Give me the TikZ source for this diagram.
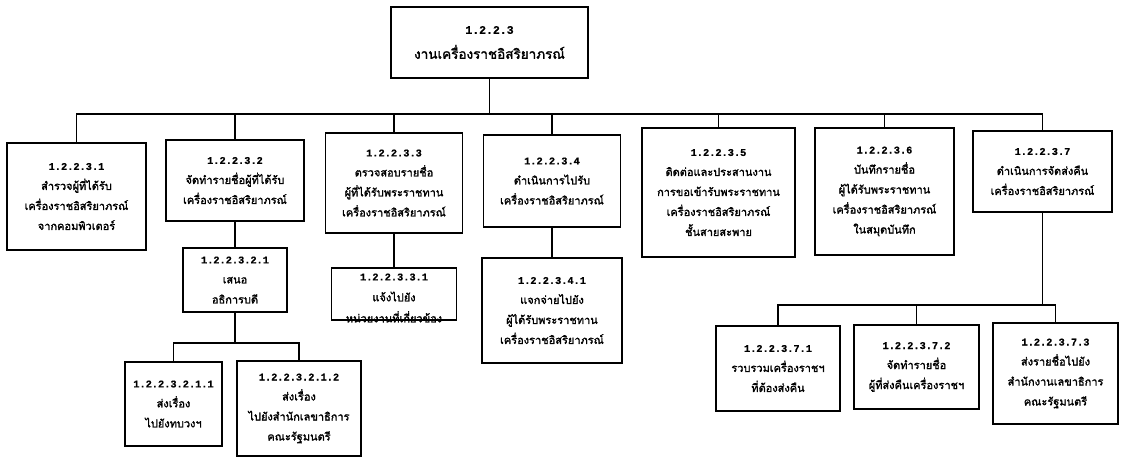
\documentclass[tikz,border=0pt]{standalone}
\usepackage{fontspec}
\newfontfamily\thai[Script=Thai,FakeBold=1.6]{Loma}
\newfontfamily\num{Liberation Mono}[FakeBold=0.6]
\newcommand\nm[1]{{\num\bfseries\fontsize{10.3}{20}\selectfont #1}}
\tikzset{
  x=1pt, y=-1pt,
  box/.style={draw, line width=1.6pt, inner sep=0pt, align=center,
    font=\thai\fontsize{11}{20}\selectfont},
  bw/.style args={#1x#2}{minimum width=#1pt, minimum height=#2pt},
  wire/.style={line width=1.3pt, line cap=rect},
}
\begin{document}
\begin{tikzpicture}
\useasboundingbox[fill=white] (0,0) rectangle (1122,458);

% root
\node[box, line width=2.8pt, bw=197x71, font=\thai\fontsize{13.5}{25}\selectfont]
  (top) at (489.5,42.5) {{\num\bfseries\fontsize{11.5}{25}\selectfont 1.2.2.3}\\งานเครื่องราชอิสริยาภรณ์};

% second level
\node[box, bw=139x107] (b1) at (76.5,196.5)
  {\nm{1.2.2.3.1}\\สำรวจผู้ที่ได้รับ\\เครื่องราชอิสริยาภรณ์\\จากคอมพิวเตอร์};
\node[box, bw=138x81] (b2) at (235,180.5)
  {\nm{1.2.2.3.2}\\จัดทำรายชื่อผู้ที่ได้รับ\\เครื่องราชอิสริยาภรณ์};
\node[box, bw=137x100] (b3) at (394,183)
  {\nm{1.2.2.3.3}\\ตรวจสอบรายชื่อ\\ผู้ที่ได้รับพระราชทาน\\เครื่องราชอิสริยาภรณ์};
\node[box, bw=137x92] (b4) at (552,181)
  {\nm{1.2.2.3.4}\\ดำเนินการไปรับ\\เครื่องราชอิสริยาภรณ์};
\node[box, bw=153x129] (b5) at (718.5,192.5)
  {\nm{1.2.2.3.5}\\ติดต่อและประสานงาน\\การขอเข้ารับพระราชทาน\\เครื่องราชอิสริยาภรณ์\\ชั้นสายสะพาย};
\node[box, bw=139x127] (b6) at (884.5,191.5)
  {\nm{1.2.2.3.6}\\บันทึกรายชื่อ\\ผู้ได้รับพระราชทาน\\เครื่องราชอิสริยาภรณ์\\ในสมุดบันทึก};
\node[box, bw=139x81] (b7) at (1042.5,171.5)
  {\nm{1.2.2.3.7}\\ดำเนินการจัดส่งคืน\\เครื่องราชอิสริยาภรณ์};

% third level
\node[box, bw=104x64] (b21) at (235,280)
  {\nm{1.2.2.3.2.1}\\เสนอ\\อธิการบดี};
\node[box, bw=125x52] (b31) at (394,294) {};
\node[align=center, inner sep=0pt, font=\thai\fontsize{11}{21}\selectfont]
  (b31t) at (394,298) {\nm{1.2.2.3.3.1}\\แจ้งไปยัง\\หน่วยงานที่เกี่ยวข้อง};
\node[box, bw=140x105] (b41) at (552,310.5)
  {\nm{1.2.2.3.4.1}\\แจกจ่ายไปยัง\\ผู้ได้รับพระราชทาน\\เครื่องราชอิสริยาภรณ์};
\node[box, bw=124x85] (b71) at (778,368.5)
  {\nm{1.2.2.3.7.1}\\รวบรวมเครื่องราชฯ\\ที่ต้องส่งคืน};
\node[box, bw=125x84] (b72) at (916.5,367)
  {\nm{1.2.2.3.7.2}\\จัดทำรายชื่อ\\ผู้ที่ส่งคืนเครื่องราชฯ};
\node[box, bw=125x101] (b73) at (1055.5,373.5)
  {\nm{1.2.2.3.7.3}\\ส่งรายชื่อไปยัง\\สำนักงานเลขาธิการ\\คณะรัฐมนตรี};

% fourth level
\node[box, bw=97x84] (b211) at (173.5,404)
  {\nm{1.2.2.3.2.1.1}\\ส่งเรื่อง\\ไปยังทบวงฯ};
\node[box, bw=124x95] (b212) at (299,408.5)
  {\nm{1.2.2.3.2.1.2}\\ส่งเรื่อง\\ไปยังสำนักเลขาธิการ\\คณะรัฐมนตรี};

% connectors
\coordinate (bus) at (489.5,114);
\draw[wire] (top.south) -- (bus);
\foreach \n in {b1,b2,b3,b4,b5,b6,b7}
  \draw[wire] (bus) -| (\n.north);

\draw[wire] (b2.south) -- (b21.north);
\draw[wire] (b3.south) -- (b31.north);
\draw[wire] (b4.south) -- (b41.north);

\coordinate (bus21) at (235,343);
\draw[wire] (b21.south) -- (bus21);
\draw[wire] (bus21) -| (b211.north);
\draw[wire] (bus21) -| (b212.north);

\coordinate (bus7) at (1042.5,305);
\draw[wire] (b7.south) -- (bus7);
\foreach \n in {b71,b72,b73}
  \draw[wire] (bus7) -| (\n.north);
\end{tikzpicture}
\end{document}
